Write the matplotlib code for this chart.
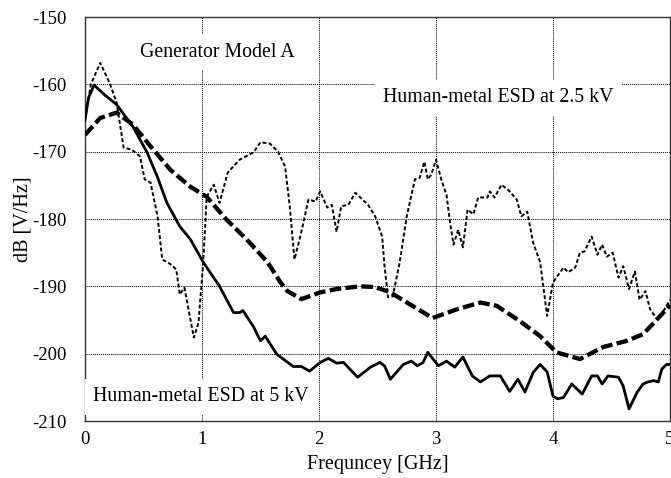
import matplotlib
matplotlib.use("Agg")
import matplotlib.pyplot as plt

# 5 kV (solid)
f_5kv = [0.0, 0.03, 0.077, 0.17, 0.27, 0.41, 0.53, 0.62, 0.70, 0.81, 0.90, 1.01, 1.15, 1.27, 1.32,
         1.35, 1.38, 1.44, 1.50, 1.54, 1.64, 1.78, 1.85, 1.92, 2.01, 2.08, 2.15, 2.21, 2.33, 2.44,
         2.52, 2.56, 2.61, 2.67, 2.72, 2.79, 2.84, 2.89, 2.93, 3.02, 3.09, 3.16, 3.23, 3.31, 3.38,
         3.46, 3.50, 3.55, 3.63, 3.70, 3.76, 3.83, 3.89, 3.95, 4.00, 4.04, 4.09, 4.16, 4.25, 4.33,
         4.38, 4.42, 4.47, 4.56, 4.60, 4.65, 4.72, 4.77, 4.81, 4.86, 4.90, 4.93, 4.97, 5.0]
db_5kv = [-165.3, -162.0, -160.1, -161.6, -163.0, -166.3, -170.1, -173.8, -177.6, -181.1, -183.0,
          -186.4, -190.0, -193.9, -193.9, -193.6, -194.4, -196.0, -198.1, -197.4, -200.1, -201.9,
          -201.9, -202.6, -201.3, -200.7, -201.4, -201.3, -203.5, -202.0, -201.3, -201.8, -203.8,
          -202.6, -201.6, -201.1, -201.8, -201.3, -199.8, -201.8, -201.1, -202.0, -200.5, -203.3,
          -204.2, -203.3, -203.3, -203.3, -205.6, -203.8, -205.7, -202.8, -201.6, -202.7, -206.3,
          -206.7, -206.5, -204.5, -206.0, -203.3, -203.3, -204.5, -203.3, -203.5, -204.8, -208.2,
          -205.7, -204.5, -204.2, -204.0, -204.2, -202.3, -201.6, -201.6]

# Generator Model A (thick dashed)
f_gen = [0.0, 0.13, 0.27, 0.41, 0.56, 0.73, 0.90, 1.04, 1.21, 1.38, 1.56, 1.67, 1.73, 1.85, 2.01,
         2.15, 2.35, 2.48, 2.61, 2.78, 2.97, 3.18, 3.38, 3.52, 3.72, 3.89, 4.03, 4.23, 4.43, 4.63,
         4.77, 4.89, 5.0]
db_gen = [-167.5, -165.0, -164.2, -166.0, -169.2, -172.7, -175.2, -176.7, -180.1, -183.0, -186.4,
          -189.4, -190.7, -191.9, -190.9, -190.4, -190.0, -190.1, -190.9, -192.7, -194.7, -193.4,
          -192.4, -192.9, -195.2, -197.4, -199.8, -200.8, -199.0, -198.1, -197.1, -194.9, -192.8]

# Human-metal ESD at 2.5 kV (thin dashed)
f_25kv = [0.0, 0.05, 0.13, 0.21, 0.27, 0.33, 0.40, 0.47, 0.51, 0.56, 0.62, 0.66, 0.73, 0.78, 0.81,
          0.85, 0.93, 0.97, 1.01, 1.04, 1.10, 1.15, 1.22, 1.32, 1.44, 1.50, 1.58, 1.65, 1.71, 1.75,
          1.79, 1.84, 1.91, 1.97, 2.01, 2.07, 2.11, 2.15, 2.19, 2.25, 2.31, 2.42, 2.48, 2.54, 2.56,
          2.59, 2.63, 2.69, 2.75, 2.82, 2.86, 2.90, 2.93, 2.96, 3.00, 3.05, 3.09, 3.12, 3.15, 3.19,
          3.23, 3.27, 3.32, 3.36, 3.44, 3.46, 3.50, 3.56, 3.63, 3.69, 3.73, 3.78, 3.83, 3.89, 3.95,
          4.00, 4.09, 4.13, 4.19, 4.23, 4.27, 4.33, 4.38, 4.42, 4.46, 4.51, 4.56, 4.60, 4.65, 4.70,
          4.74, 4.79, 4.83, 4.89, 4.95, 5.0]
db_25kv = [-165.0, -160.0, -156.8, -159.8, -162.7, -169.4, -169.7, -170.7, -174.1, -174.6, -179.6,
           -186.0, -186.7, -187.5, -191.2, -190.2, -197.6, -195.4, -186.5, -176.7, -174.9, -177.6,
           -173.1, -171.2, -170.1, -168.6, -168.8, -170.0, -172.2, -178.1, -186.0, -182.6, -177.1,
           -177.4, -175.9, -178.3, -177.9, -181.9, -178.1, -177.9, -176.1, -177.9, -179.6, -182.6,
           -187.0, -191.6, -191.5, -186.4, -179.6, -174.1, -173.9, -171.5, -174.1, -173.4, -171.2,
           -174.4, -176.4, -180.5, -183.8, -181.6, -184.2, -178.6, -179.3, -176.8, -176.8, -175.9,
           -176.8, -174.9, -175.9, -177.1, -179.6, -178.9, -183.5, -186.4, -194.4, -189.4, -187.2,
           -187.9, -187.2, -185.0, -184.8, -182.6, -185.3, -183.8, -185.6, -185.0, -188.7, -187.0,
           -190.4, -187.8, -192.0, -190.7, -193.4, -194.9, -193.5, -192.0]

x_ticks = [0, 1, 2, 3, 4, 5]
y_ticks = [-210, -200, -190, -180, -170, -160, -150]

plt.rcParams['font.family'] = ['Liberation Serif', 'DejaVu Serif']

fig = plt.figure(figsize=(6.71, 4.78), dpi=100)
ax = fig.add_axes([0.1267, 0.1192, 0.8718, 0.8452])

ax.plot(f_25kv, db_25kv, color='black', lw=1.4, dashes=(2.0, 1.2), zorder=3)
ax.plot(f_gen, db_gen, color='black', lw=3.1, dashes=(2.7, 1.0), zorder=3)
ax.plot(f_5kv, db_5kv, color='black', lw=2.0, zorder=3)

ax.set_xlim(0, 5)
ax.set_ylim(-210, -150)
ax.set_xticks(x_ticks)
ax.set_yticks(y_ticks)
ax.set_xticklabels([str(v) for v in x_ticks])
ax.set_yticklabels([str(v) for v in y_ticks])
ax.tick_params(axis='both', length=0, labelsize=13.5)
ax.tick_params(axis='y', pad=13)
ax.tick_params(axis='x', pad=7)
ax.grid(True, color='black', linestyle=(0, (1, 1)), lw=0.7, zorder=1)
ax.set_axisbelow(True)
for s in ax.spines.values():
    s.set_color('#333333')
    s.set_linewidth(1.0)

ax.set_xlabel('Frequncey [GHz]', fontsize=14.5, labelpad=5)
ax.set_ylabel('dB [V/Hz]', fontsize=14.5, labelpad=0)

box = dict(facecolor='white', edgecolor='none', pad=6)
ax.text(0.47, -155.2, 'Generator Model A', fontsize=14.3, va='center', ha='left', bbox=box, zorder=4)
ax.text(2.55, -162.0, 'Human-metal ESD at 2.5 kV', fontsize=14.3, va='center', ha='left', bbox=box, zorder=4)
ax.text(0.07, -206.4, 'Human-metal ESD at 5 kV', fontsize=14.3, va='center', ha='left', bbox=box, zorder=4)

fig.savefig('out.png', dpi=100)
